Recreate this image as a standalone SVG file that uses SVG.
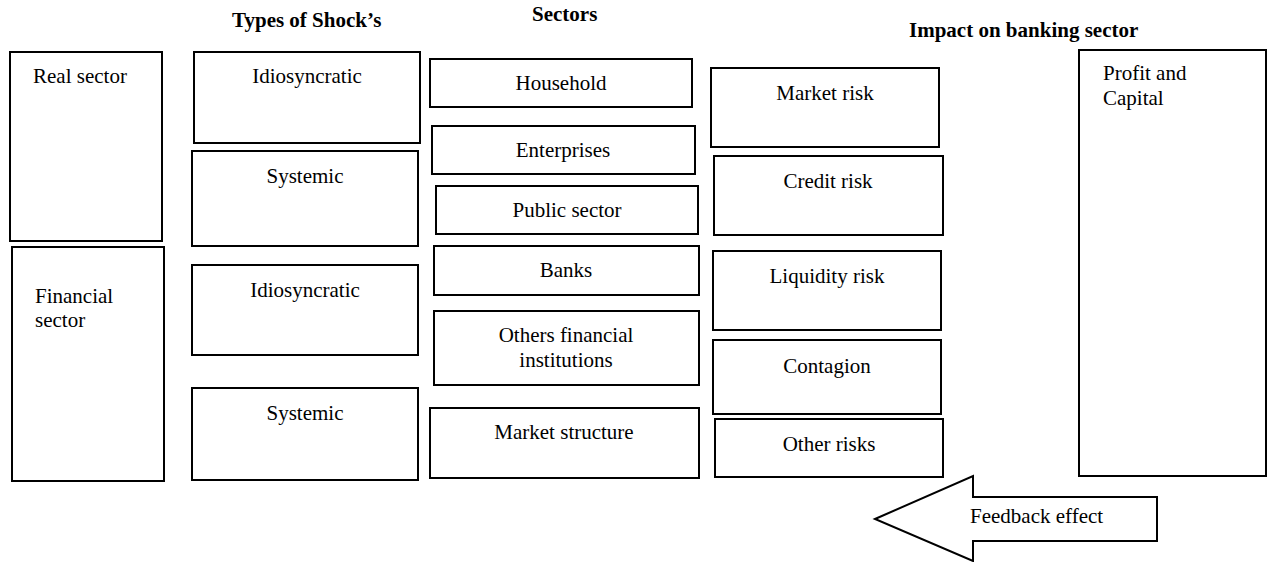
<svg xmlns="http://www.w3.org/2000/svg" width="1267" height="562" viewBox="0 0 1267 562">
  <style>
    .box { fill: #ffffff; stroke: #000000; stroke-width: 2; }
    .t { font-family: "Liberation Serif", "Times New Roman", serif; font-size: 21px; fill: #000000; }
    .c { text-anchor: middle; }
    .h { font-weight: bold; }
  </style>
  <rect width="1267" height="562" fill="#ffffff"/>

  <!-- Column headings -->
  <g id="headings">
    <text class="t h" x="232" y="27">Types of Shock’s</text>
    <text class="t h" x="532" y="21">Sectors</text>
    <text class="t h" x="909" y="37">Impact on banking sector</text>
  </g>

  <!-- Origin of shocks -->
  <g id="real-sector">
    <rect class="box" x="10" y="52" width="152" height="189"/>
    <text class="t" x="33" y="83">Real sector</text>
  </g>
  <g id="financial-sector">
    <rect class="box" x="12" y="247" width="152" height="234"/>
    <text class="t" x="35" y="303">Financial</text>
    <text class="t" x="35" y="327">sector</text>
  </g>

  <!-- Types of shocks -->
  <g id="idiosyncratic-1">
    <rect class="box" x="194" y="52" width="226" height="91"/>
    <text class="t c" x="307" y="83">Idiosyncratic</text>
  </g>
  <g id="systemic-1">
    <rect class="box" x="192" y="151" width="226" height="95"/>
    <text class="t c" x="305" y="183">Systemic</text>
  </g>
  <g id="idiosyncratic-2">
    <rect class="box" x="192" y="265" width="226" height="90"/>
    <text class="t c" x="305" y="297">Idiosyncratic</text>
  </g>
  <g id="systemic-2">
    <rect class="box" x="192" y="388" width="226" height="92"/>
    <text class="t c" x="305" y="420">Systemic</text>
  </g>

  <!-- Sectors -->
  <g id="household">
    <rect class="box" x="430" y="59" width="262" height="48"/>
    <text class="t c" x="561" y="90">Household</text>
  </g>
  <g id="enterprises">
    <rect class="box" x="432" y="126" width="263" height="48"/>
    <text class="t c" x="563" y="157">Enterprises</text>
  </g>
  <g id="public-sector">
    <rect class="box" x="436" y="186" width="262" height="48"/>
    <text class="t c" x="567" y="217">Public sector</text>
  </g>
  <g id="banks">
    <rect class="box" x="434" y="246" width="265" height="49"/>
    <text class="t c" x="566" y="277">Banks</text>
  </g>
  <g id="other-financial-institutions">
    <rect class="box" x="434" y="311" width="265" height="74"/>
    <text class="t c" x="566" y="342">Others financial</text>
    <text class="t c" x="566" y="367">institutions</text>
  </g>
  <g id="market-structure">
    <rect class="box" x="430" y="408" width="269" height="70"/>
    <text class="t c" x="564" y="439">Market structure</text>
  </g>

  <!-- Risk channels -->
  <g id="market-risk">
    <rect class="box" x="711" y="68" width="228" height="79"/>
    <text class="t c" x="825" y="100">Market risk</text>
  </g>
  <g id="credit-risk">
    <rect class="box" x="714" y="156" width="229" height="79"/>
    <text class="t c" x="828" y="188">Credit risk</text>
  </g>
  <g id="liquidity-risk">
    <rect class="box" x="713" y="251" width="228" height="79"/>
    <text class="t c" x="827" y="283">Liquidity risk</text>
  </g>
  <g id="contagion">
    <rect class="box" x="713" y="340" width="228" height="74"/>
    <text class="t c" x="827" y="373">Contagion</text>
  </g>
  <g id="other-risks">
    <rect class="box" x="715" y="419" width="228" height="58"/>
    <text class="t c" x="829" y="451">Other risks</text>
  </g>

  <!-- Outcome -->
  <g id="profit-capital">
    <rect class="box" x="1079" y="50" width="187" height="426"/>
    <text class="t" x="1103" y="80">Profit and</text>
    <text class="t" x="1103" y="105">Capital</text>
  </g>

  <!-- Feedback arrow back towards the shock origins -->
  <g id="connectors">
    <g id="feedback-effect">
      <polygon class="box" points="875,519 973,476 973,497 1157,497 1157,541 973,541 973,561"/>
      <text class="t" x="970" y="523">Feedback effect</text>
    </g>
  </g>
</svg>
